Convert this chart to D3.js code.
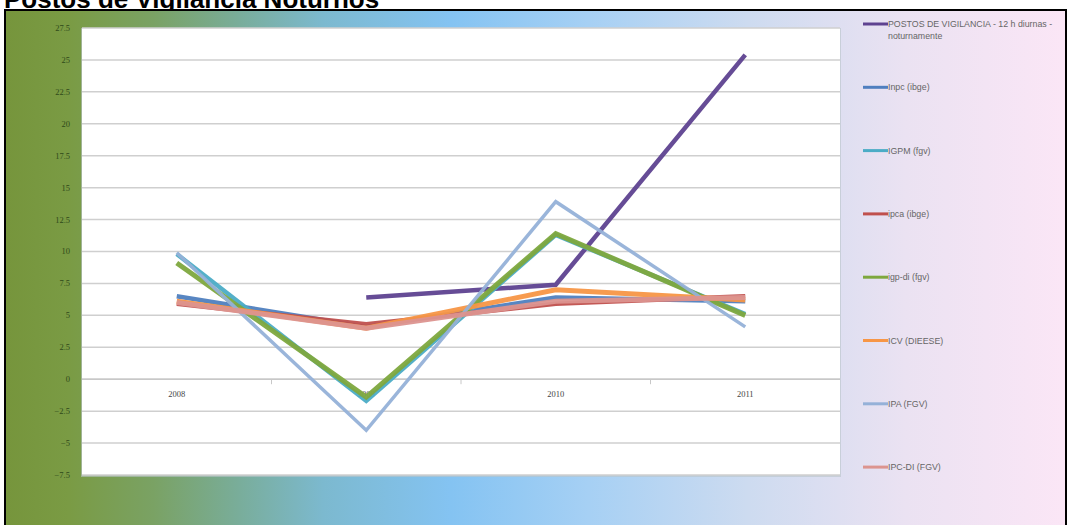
<!DOCTYPE html>
<html>
<head>
<meta charset="utf-8">
<script src="https://cdn.jsdelivr.net/npm/d3@7"></script>
<style>
  html, body { margin: 0; padding: 0; background: #ffffff; }
  svg { display: block; }
</style>
</head>
<body>
<svg id="chart" width="1071" height="525"></svg>
<script>
// categories and tick labels
const years = ["2008", "2009", "2010", "2011"];
const yTicks = [27.5, 25, 22.5, 20, 17.5, 15, 12.5, 10, 7.5, 5, 2.5, 0, -2.5, -5, -7.5];

// series values
const postos = [null, 6.4, 7.4, 25.4];
const inpc = [6.5, 4.1, 6.4, 6.1];
const igpm = [9.8, -1.7, 11.3, 5.1];
const ipca = [5.9, 4.3, 5.9, 6.5];
const igpdi = [9.1, -1.4, 11.4, 5.0];
const icv = [6.1, 4.0, 7.0, 6.2];
const ipa = [9.9, -4.0, 13.9, 4.1];
const ipcdi = [6.0, 4.0, 6.1, 6.4];

const seriesNames = [
  "POSTOS DE VIGILANCIA - 12 h diurnas - noturnamente",
  "Inpc (ibge)",
  "IGPM (fgv)",
  "ipca (ibge)",
  "igp-di (fgv)",
  "ICV (DIEESE)",
  "IPA (FGV)",
  "IPC-DI (FGV)"
];
const seriesValues = [postos, inpc, igpm, ipca, igpdi, icv, ipa, ipcdi];
const seriesColors = ["#5e4290", "#4f7fbf", "#4bacc6", "#c0504d", "#7ea83e", "#f79646", "#95b1d8", "#dc948f"];
const seriesWidths = [4.5, 4.5, 4.5, 4.5, 5, 5, 3.5, 5];

const svg = d3.select("#chart");

// background gradient
const defs = svg.append("defs");
const grad = defs.append("linearGradient")
  .attr("id", "bg")
  .attr("x1", "0%").attr("x2", "100%").attr("y1", "0%").attr("y2", "0%");
[
  [0, "#76953c"], [0.06, "#7a9b44"], [0.14, "#7aa264"], [0.22, "#79ad9a"],
  [0.3, "#7cb9cf"], [0.42, "#84c3f2"], [0.55, "#a6d0f4"], [0.7, "#cddbf0"],
  [0.85, "#ebe2f2"], [1, "#fbe6f6"]
].forEach(([o, c]) => grad.append("stop").attr("offset", o).attr("stop-color", c));

// title (top part sits above the page edge, as in the source)
svg.append("text")
  .attr("x", 4)
  .attr("y", 8)
  .text("Postos de Vigilância Noturnos")
  .style("font-family", "'Liberation Sans', Arial, sans-serif")
  .style("font-weight", "bold")
  .style("font-size", "26px")
  .style("fill", "#000");

// frame (bottom edge runs off the page)
svg.append("rect")
  .attr("x", 5).attr("y", 10)
  .attr("width", 1061).attr("height", 520)
  .attr("fill", "url(#bg)")
  .attr("stroke", "#000")
  .attr("stroke-width", 2);

// plot area
const plot = { left: 82, right: 840, top: 28, bottom: 475 };

svg.append("rect")
  .attr("x", plot.left - 1).attr("y", plot.top)
  .attr("width", plot.right - plot.left + 2).attr("height", plot.bottom - plot.top + 2)
  .attr("fill", "#b9c4c9")
  .attr("opacity", 0.6);
svg.append("rect")
  .attr("x", plot.left).attr("y", plot.top)
  .attr("width", plot.right - plot.left).attr("height", plot.bottom - plot.top)
  .attr("fill", "#ffffff");

const x = d3.scaleBand()
  .domain(years)
  .range([plot.left, plot.right]);

const y = d3.scaleLinear()
  .domain([-7.5, 27.5])
  .range([plot.bottom, plot.top]);

// gridlines
svg.append("g")
  .selectAll("line")
  .data(yTicks)
  .enter()
  .append("line")
  .attr("x1", plot.left)
  .attr("x2", plot.right)
  .attr("y1", (d) => y(d))
  .attr("y2", (d) => y(d))
  .attr("stroke", "#cfcfcf")
  .attr("stroke-width", 1.5);

// y axis labels
svg.append("g")
  .selectAll("text")
  .data(yTicks)
  .enter()
  .append("text")
  .attr("x", 70)
  .attr("y", (d) => y(d))
  .attr("dy", "0.35em")
  .attr("text-anchor", "end")
  .text((d) => d3.format("")(d))
  .style("font-family", "'Liberation Serif', serif")
  .style("font-size", "8.5px")
  .style("fill", "#2f4a1a");

// x axis at zero
const xAxis = svg.append("g")
  .attr("transform", `translate(0, ${y(0)})`);
xAxis.append("line")
  .attr("x1", plot.left).attr("x2", plot.right)
  .attr("stroke", "#c8c8c8").attr("stroke-width", 1.5);
xAxis.selectAll(".tick")
  .data(years.slice(1))
  .enter()
  .append("line")
  .attr("x1", (d) => x(d)).attr("x2", (d) => x(d))
  .attr("y1", 0).attr("y2", 5)
  .attr("stroke", "#c8c8c8");
xAxis.selectAll(".lbl")
  .data(years)
  .enter()
  .append("text")
  .attr("x", (d) => x(d) + x.bandwidth() / 2)
  .attr("y", 18)
  .attr("text-anchor", "middle")
  .text((d) => d)
  .style("font-family", "'Liberation Serif', serif")
  .style("font-size", "8.5px")
  .style("fill", "#444");

// lines
const line = d3.line()
  .defined((d) => d != null)
  .x((d, i) => x(years[i]) + x.bandwidth() / 2)
  .y((d) => y(d));

seriesValues.forEach((vals, i) => {
  svg.append("path")
    .datum(vals)
    .attr("d", line)
    .attr("fill", "none")
    .attr("stroke", seriesColors[i])
    .attr("stroke-width", seriesWidths[i])
    .attr("stroke-linejoin", "miter")
    .attr("opacity", 0.95);
});

// legend
const legend = svg.append("g")
  .attr("transform", "translate(863, 24)");

const legendFont = (sel) => sel
  .style("font-family", "'Liberation Sans', Arial, sans-serif")
  .style("font-size", "8.8px")
  .style("fill", "#666");

seriesNames.forEach((name, i) => {
  const row = legend.append("g")
    .attr("transform", `translate(0, ${i * 63.3})`);
  row.append("line")
    .attr("x1", 0).attr("x2", 25)
    .attr("stroke", seriesColors[i])
    .attr("stroke-width", 3);
  const t = row.append("text")
    .attr("x", 25)
    .attr("y", 0)
    .attr("dy", "0.35em")
    .call(legendFont);
  if (i === 0) {
    t.text("POSTOS DE VIGILANCIA - 12 h diurnas -");
    row.append("text")
      .attr("x", 25)
      .attr("y", 12)
      .attr("dy", "0.35em")
      .text("noturnamente")
      .call(legendFont);
  } else {
    t.text(name);
  }
});
</script>
</body>
</html>
